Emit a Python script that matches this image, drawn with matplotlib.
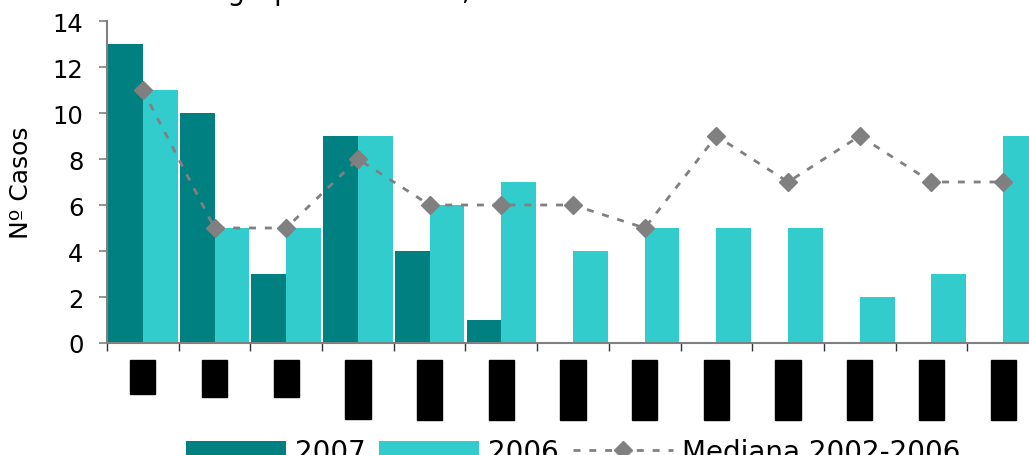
import matplotlib.pyplot as plt
import numpy as np

# data
GROUPS = ["<1", "1-4", "5-9", "10-14", "15-19", "20-24", "25-34",
          "35-44", "45-54", "55-64", "65-74", "75-84", "85-94"]
CASES_2007 = [13, 10, 3, 9, 4, 1, 0, 0, 0, 0, 0, 0, 0]
CASES_2006 = [11, 5, 5, 9, 6, 7, 4, 5, 5, 5, 2, 3, 9]
MEDIAN_02_06 = [11, 5, 5, 8, 6, 6, 6, 5, 9, 7, 9, 7, 7]

TEAL = "#008080"
TURQ = "#33CCCC"
GREY = "#808080"

W, H = 1029, 456
fig = plt.figure(figsize=(W / 100, H / 100), dpi=100)
# the plot runs past the right edge of the picture, as in the reference
ax = fig.add_axes([107 / W, (H - 344) / H, (1039 - 107) / W, (344 - 22) / H])

x = np.arange(len(GROUPS))
bw = 0.485
b1 = ax.bar(x - bw / 2, CASES_2007, bw, color=TEAL, label="2007")
b2 = ax.bar(x + bw / 2, CASES_2006, bw, color=TURQ, label="2006")
ln, = ax.plot(x, MEDIAN_02_06, color=GREY, lw=2, linestyle=(0, (2.5, 3.2)),
              marker="D", markersize=9, label="Mediana 2002-2006")

ax.set_xlim(-0.5, len(GROUPS) - 0.5)
ax.set_ylim(0, 14)
ax.set_yticks(range(0, 15, 2))
ax.tick_params(axis="y", labelsize=17.5, length=6, width=1.2, color=GREY, pad=11)

# ticks on the group boundaries, labels at the group centres
ax.set_xticks(np.arange(-0.5, len(GROUPS), 1))
ax.set_xticklabels([])
ax.tick_params(axis="x", which="major", length=6, width=1, color="#333333")
ax.set_xticks(x, minor=True)
ax.set_xticklabels(GROUPS, minor=True, rotation=90, fontsize=13)
ax.tick_params(axis="x", which="minor", length=0, pad=15)
for lbl in ax.get_xticklabels(minor=True):
    lbl.set_bbox(dict(boxstyle="square,pad=0.2", fc="black", ec="black"))

for side in ("top", "right"):
    ax.spines[side].set_visible(False)
for side in ("left", "bottom"):
    ax.spines[side].set_color(GREY)
    ax.spines[side].set_linewidth(1.5)

ax.set_ylabel("Nº Casos", fontsize=18, labelpad=14)

fig.legend(handles=[b1, b2, ln], loc="center", bbox_to_anchor=(573 / W, 3 / H),
           ncol=3, frameon=False, fontsize=20, handlelength=3.6,
           handletextpad=0.32, columnspacing=0.5, borderpad=0)

# title sits mostly above the picture; only descenders show
title_pre = "Casos notificados en "
title_main = "grupo de edades, 2006-2007"
tmp = fig.text(0, 0, title_pre, fontsize=20)
fig.canvas.draw()
pre_w = tmp.get_window_extent().width
tmp.remove()
fig.text((227 - pre_w) / W, 1.0, title_pre + title_main, fontsize=20,
         va="baseline", ha="left")

fig.savefig("out.png", dpi=100)
